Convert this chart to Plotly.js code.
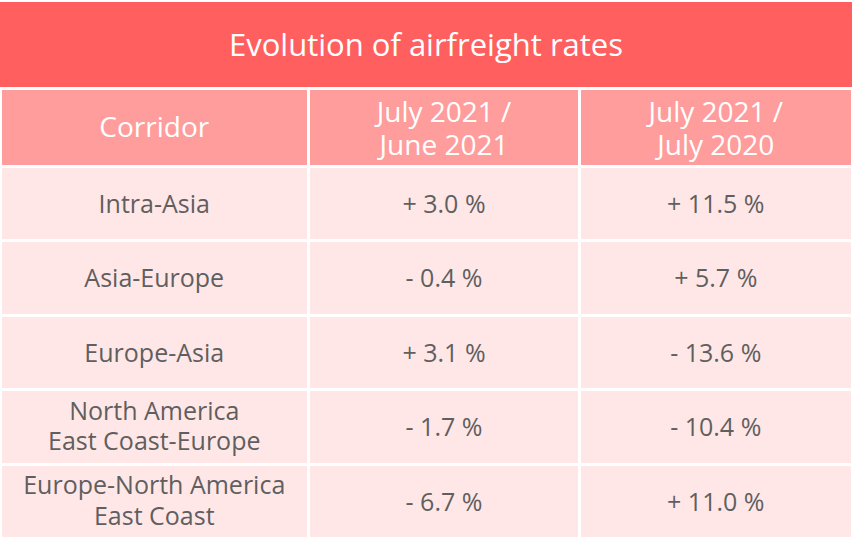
<!DOCTYPE html>
<html><head><meta charset="utf-8">
<script src="https://cdn.plot.ly/plotly-3.0.1.min.js"></script>
<style>html,body{margin:0;padding:0;background:#fff}#chart{width:852px;height:542px}</style>
</head><body><div id="chart"></div>
<script>
// ---- data ----
const chartTitle = 'Evolution of airfreight rates';
const headers = ['Corridor', 'July 2021 /<br>June 2021', 'July 2021 /<br>July 2020'];
const corridors = ['Intra-Asia', 'Asia-Europe', 'Europe-Asia', 'North America<br>East Coast-Europe', 'Europe-North America<br>East Coast'];
const monthOnMonth = [3.0, -0.4, 3.1, -1.7, -6.7];   // July 2021 / June 2021, %
const yearOnYear = [11.5, 5.7, -13.6, -10.4, 11.0];  // July 2021 / July 2020, %

// ---- build ----
const W = 852, H = 542;
const py = p => 1 - p / H;
const FONT = 'Open Sans, Noto Sans, sans-serif';
const fmt = v => (v < 0 ? '- ' : '+ ') + Math.abs(v).toFixed(1) + ' %';
const columns = [corridors, monthOnMonth.map(fmt), yearOnYear.map(fmt)];
const parts = s => s.split('<br>');
const lineOf = k => s => { const p = parts(s); return p.length > 1 ? (p[k] || '') : ''; };
const singleOf = s => (parts(s).length > 1 ? '' : s);
const blank = () => '';

const colW = [308.5, 271, 272.5];
const headH = 78, cellH = 74.5, tableTop = 88;
const HEAD_FONT = {family: FONT, size: 28, color: '#ffffff'};
const CELL_FONT = {family: FONT, size: 25, color: '#5f5f5f'};
const CLEAR = 'rgba(0,0,0,0)';

// grid table: fills and white grid lines
const grid = {
  type: 'table',
  columnwidth: colW,
  domain: {x: [0, 1], y: [0, py(tableTop)]},
  header: {values: headers.map(blank), height: headH, align: 'center',
    fill: {color: '#ff9c9c'}, line: {color: '#ffffff', width: 3}, font: HEAD_FONT},
  cells: {values: columns.map(c => c.map(blank)), height: cellH, align: 'center',
    fill: {color: '#ffe7e7'}, line: {color: '#ffffff', width: 3}, font: CELL_FONT},
  hoverinfo: 'skip'
};

// text overlays (table text is top aligned, so each is offset to centre its lines)
function overlay(headShift, cellShift, headVals, cellVals) {
  return {
    type: 'table',
    columnwidth: colW,
    domain: {x: [0, 1], y: [0, py(tableTop + headShift)]},
    header: {values: headVals, height: headH + cellShift - headShift, align: 'center',
      fill: {color: CLEAR}, line: {color: CLEAR, width: 0}, font: HEAD_FONT},
    cells: {values: cellVals, height: cellH, align: 'center',
      fill: {color: CLEAR}, line: {color: CLEAR, width: 0}, font: CELL_FONT},
    hoverinfo: 'skip'
  };
}
const firstLines = overlay(5, 3.5, headers.map(lineOf(0)), columns.map(c => c.map(lineOf(0))));
const secondLines = overlay(38, 34, headers.map(lineOf(1)), columns.map(c => c.map(lineOf(1))));
const singleLines = overlay(20, 20, headers.map(singleOf), columns.map(c => c.map(singleOf)));

const layout = {
  width: W, height: H,
  margin: {l: 0, r: 0, t: 0, b: 0},
  paper_bgcolor: '#ffffff',
  showlegend: false,
  title: {text: chartTitle, x: 0.5, xanchor: 'center', xref: 'paper', y: py(45), yanchor: 'middle', yref: 'container',
    font: {family: FONT, size: 31, color: '#ffffff'}},
  shapes: [{type: 'rect', xref: 'paper', yref: 'paper', x0: 0, x1: 1, y0: py(87), y1: py(2),
    fillcolor: '#ff5f5f', line: {width: 0}, layer: 'below'}]
};

Plotly.newPlot('chart', [grid, firstLines, secondLines, singleLines], layout, {displayModeBar: false, staticPlot: true});
</script>
</body></html>
